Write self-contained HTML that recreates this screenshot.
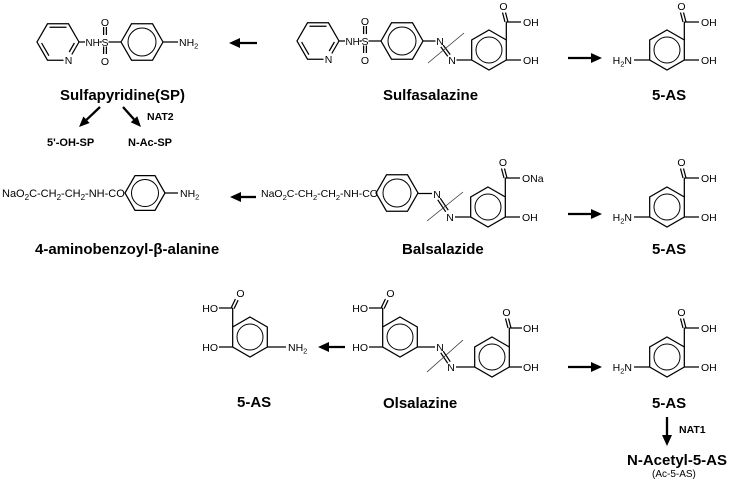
<!DOCTYPE html>
<html><head><meta charset="utf-8"><style>
html,body{margin:0;padding:0;background:#fff;}
svg{display:block;}
text{font-family:"Liberation Sans",Arial,sans-serif;fill:#000;}
.a{font-size:10.5px;}
.b{font-weight:bold;font-size:15px;}
.s{font-weight:bold;font-size:10.5px;}
.bd{stroke:#000;stroke-width:1.25;fill:none;}
.ci{stroke:#000;stroke-width:1;fill:none;}
.ar{stroke:#000;stroke-width:2.3;fill:none;}
.sl{stroke:#333;stroke-width:0.8;fill:none;}
.hd{fill:#000;stroke:none;}
</style></head><body>
<svg width="730" height="489" viewBox="0 0 730 489" xmlns="http://www.w3.org/2000/svg">
<rect width="730" height="489" fill="#fff"/>

<!-- ===== Sulfapyridine core ===== -->
<g>
 <g transform="translate(58,42)">
  <path class="bd" d="M21,0 L13.8,12.5 M5.5,18.19 L-10.5,18.19 L-21,0 L-10.5,-18.19 L10.5,-18.19 L21,0 M-8.5,-14.7 L8.5,-14.7 M-16.4,1 L-9.1,13.7 M16.4,1 L11.2,10"/>
  <text class="a" x="10.5" y="22" text-anchor="middle">N</text>
 </g>
 <path class="bd" d="M79,42 L85,42 M99.5,42 L101.8,42 M103.6,27 L103.6,35 M106.4,27 L106.4,35 M103.6,46.5 L103.6,54 M106.4,46.5 L106.4,54 M108.5,42 L121,42"/>
 <text class="a" x="85.5" y="45.8" style="font-size:9.8px">NH</text>
 <text class="a" x="105" y="45.8" text-anchor="middle">S</text>
 <text class="a" x="105" y="25.8" text-anchor="middle">O</text>
 <text class="a" x="105" y="64.8" text-anchor="middle">O</text>
 <g transform="translate(142,42)">
  <path class="bd" d="M-21,0 L-10.5,-18.19 L10.5,-18.19 L21,0 L10.5,18.19 L-10.5,18.19 Z"/>
  <circle class="ci" r="14"/>
 </g>
</g>
<path class="bd" d="M163,42 L178,42"/>
<text class="a" x="179" y="45.8">NH<tspan font-size="7.5" dy="2.5">2</tspan></text>

<!-- top-left arrow -->
<path class="ar" d="M257,43 L239,43"/>
<polygon class="hd" points="229,43 240,38 240,48"/>

<text class="b" x="60" y="100">Sulfapyridine(SP)</text>
<path class="ar" d="M100,107 L86.5,119.8"/>
<polygon class="hd" points="79,127 89.6,123 83.4,116.5"/>
<path class="ar" d="M123,107 L134,119.3"/>
<polygon class="hd" points="141,127 137.3,116.3 130.7,122.3"/>
<text class="s" x="147" y="120">NAT2</text>
<text class="s" x="47" y="146" style="font-size:11px">5'-OH-SP</text>
<text class="s" x="128" y="146" style="font-size:11px">N-Ac-SP</text>

<!-- ===== Sulfasalazine ===== -->
<g transform="translate(260,-1)">
 <g transform="translate(58,42)">
  <path class="bd" d="M21,0 L13.8,12.5 M5.5,18.19 L-10.5,18.19 L-21,0 L-10.5,-18.19 L10.5,-18.19 L21,0 M-8.5,-14.7 L8.5,-14.7 M-16.4,1 L-9.1,13.7 M16.4,1 L11.2,10"/>
  <text class="a" x="10.5" y="22" text-anchor="middle">N</text>
 </g>
 <path class="bd" d="M79,42 L85,42 M99.5,42 L101.8,42 M103.6,27 L103.6,35 M106.4,27 L106.4,35 M103.6,46.5 L103.6,54 M106.4,46.5 L106.4,54 M108.5,42 L121,42"/>
 <text class="a" x="85.5" y="45.8" style="font-size:9.8px">NH</text>
 <text class="a" x="105" y="45.8" text-anchor="middle">S</text>
 <text class="a" x="105" y="25.8" text-anchor="middle">O</text>
 <text class="a" x="105" y="64.8" text-anchor="middle">O</text>
 <g transform="translate(142,42)">
  <path class="bd" d="M-21,0 L-10.5,-18.19 L10.5,-18.19 L21,0 L10.5,18.19 L-10.5,18.19 Z"/>
  <circle class="ci" r="14"/>
 </g>
</g>
<path class="bd" d="M423,41 L435.5,41 M440.8,46.9 L447.8,56.4 M443.2,45.1 L450.2,54.6 M456.5,60 L471.7,60"/>
<text class="a" x="440" y="44.8" text-anchor="middle">N</text>
<text class="a" x="452" y="63.8" text-anchor="middle">N</text>
<path class="sl" d="M428,63 L464,33"/>
<g transform="translate(489,50)">
 <path class="bd" d="M0,-20 L17.32,-10 L17.32,10 L0,20 L-17.32,10 L-17.32,-10 Z"/>
 <circle class="ci" r="13"/>
 <path class="bd" d="M17.32,-10 L17.32,-28 M16,-28 L13.5,-37.5 M19,-28 L16.5,-37.5 M17.32,-28 L32,-28 M17.32,10 L32,10"/>
 <text class="a" x="14.5" y="-40.2" text-anchor="middle">O</text>
 <text class="a" x="34" y="-24.2">OH</text>
 <text class="a" x="34" y="13.8">OH</text>
</g>
<text class="b" x="383" y="100">Sulfasalazine</text>

<!-- top right arrow -->
<path class="ar" d="M568,58 L592,58"/>
<polygon class="hd" points="602,58 591,53 591,63"/>

<!-- 5-AS top -->
<g transform="translate(667,50)">
 <path class="bd" d="M0,-20 L17.32,-10 L17.32,10 L0,20 L-17.32,10 L-17.32,-10 Z"/>
 <circle class="ci" r="13"/>
 <path class="bd" d="M-17.32,10 L-33,10 M17.32,-10 L17.32,-28 M16,-28 L13.5,-37.5 M19,-28 L16.5,-37.5 M17.32,-28 L32,-28 M17.32,10 L32,10"/>
 <text class="a" x="-35" y="13.8" text-anchor="end">H<tspan font-size="7.5" dy="2.5">2</tspan><tspan dy="-2.5">N</tspan></text>
 <text class="a" x="14.5" y="-40.2" text-anchor="middle">O</text>
 <text class="a" x="34" y="-24.2">OH</text>
 <text class="a" x="34" y="13.8">OH</text>
</g>
<text class="b" x="652" y="100">5-AS</text>

<!-- ===== Row 2 ===== -->
<text x="2" y="197" style="font-size:11px">NaO<tspan font-size="8" dy="3">2</tspan><tspan dy="-3">C-CH</tspan><tspan font-size="8" dy="3">2</tspan><tspan dy="-3">-CH</tspan><tspan font-size="8" dy="3">2</tspan><tspan dy="-3">-NH-CO</tspan></text>
<g transform="translate(145,193)">
 <path class="bd" d="M-20,0 L-10,-17.32 L10,-17.32 L20,0 L10,17.32 L-10,17.32 Z"/>
 <circle class="ci" r="13.5"/>
</g>
<path class="bd" d="M165,193 L178,193"/>
<text class="a" x="180" y="197">NH<tspan font-size="7.5" dy="2.5">2</tspan></text>
<text class="b" x="35" y="254">4-aminobenzoyl-β-alanine</text>

<path class="ar" d="M256,197 L240,197"/>
<polygon class="hd" points="230,197 241,192 241,202"/>

<text x="261" y="197" style="font-size:10.5px">NaO<tspan font-size="7.5" dy="3">2</tspan><tspan dy="-3">C-CH</tspan><tspan font-size="7.5" dy="3">2</tspan><tspan dy="-3">-CH</tspan><tspan font-size="7.5" dy="3">2</tspan><tspan dy="-3">-NH-CO</tspan></text>
<g transform="translate(397,193)">
 <path class="bd" d="M-21,0 L-10.5,-18.19 L10.5,-18.19 L21,0 L10.5,18.19 L-10.5,18.19 Z"/>
 <circle class="ci" r="14"/>
</g>
<path class="bd" d="M418,193.5 L432,193.5 M437.75,199.8 L445.75,211.8 M440.25,198.2 L448.25,210.2 M455,217 L470.7,217"/>
<text class="a" x="437" y="197.8" text-anchor="middle">N</text>
<text class="a" x="450" y="220.8" text-anchor="middle">N</text>
<path class="sl" d="M427,221 L463,192"/>
<g transform="translate(488,207)">
 <path class="bd" d="M0,-20 L17.32,-10 L17.32,10 L0,20 L-17.32,10 L-17.32,-10 Z"/>
 <circle class="ci" r="13"/>
 <path class="bd" d="M17.32,-10 L17.32,-29 M16,-29 L13.5,-38.5 M19,-29 L16.5,-38.5 M17.32,-29 L32,-29 M17.32,10 L32,10"/>
 <text class="a" x="15" y="-41.2" text-anchor="middle">O</text>
 <text class="a" x="34" y="-25.2">ONa</text>
 <text class="a" x="34" y="13.8">OH</text>
</g>
<text class="b" x="402" y="254">Balsalazide</text>

<path class="ar" d="M568,214 L592,214"/>
<polygon class="hd" points="602,214 591,209 591,219"/>

<g transform="translate(667,207)">
 <path class="bd" d="M0,-20 L17.32,-10 L17.32,10 L0,20 L-17.32,10 L-17.32,-10 Z"/>
 <circle class="ci" r="13"/>
 <path class="bd" d="M-17.32,10 L-33,10 M17.32,-10 L17.32,-29 M16,-29 L13.5,-38.5 M19,-29 L16.5,-38.5 M17.32,-29 L32,-29 M17.32,10 L32,10"/>
 <text class="a" x="-35" y="13.8" text-anchor="end">H<tspan font-size="7.5" dy="2.5">2</tspan><tspan dy="-2.5">N</tspan></text>
 <text class="a" x="14.5" y="-41.2" text-anchor="middle">O</text>
 <text class="a" x="34" y="-25.2">OH</text>
 <text class="a" x="34" y="13.8">OH</text>
</g>
<text class="b" x="652" y="254">5-AS</text>

<!-- ===== Row 3 ===== -->
<g transform="translate(250,337)">
 <path class="bd" d="M0,-20 L17.32,-10 L17.32,10 L0,20 L-17.32,10 L-17.32,-10 Z"/>
 <circle class="ci" r="13"/>
 <path class="bd" d="M-17.32,-10 L-17.32,-29 M-18.6,-29.6 L-14.6,-38 M-15.9,-28.4 L-11.9,-36.8 M-17.32,-29 L-31,-29 M-17.32,10 L-31,10 M17.32,10 L36,10"/>
 <text class="a" x="-9.5" y="-40.2" text-anchor="middle">O</text>
 <text class="a" x="-32" y="-25.2" text-anchor="end">HO</text>
 <text class="a" x="-32" y="13.8" text-anchor="end">HO</text>
 <text class="a" x="38" y="13.8">NH<tspan font-size="7.5" dy="2.5">2</tspan></text>
</g>
<text class="b" x="237" y="407">5-AS</text>

<path class="ar" d="M345,347 L328,347"/>
<polygon class="hd" points="318,347 329,342 329,352"/>

<g transform="translate(400,337)">
 <path class="bd" d="M0,-20 L17.32,-10 L17.32,10 L0,20 L-17.32,10 L-17.32,-10 Z"/>
 <circle class="ci" r="13"/>
 <path class="bd" d="M-17.32,-10 L-17.32,-29 M-18.6,-29.6 L-14.6,-38 M-15.9,-28.4 L-11.9,-36.8 M-17.32,-29 L-31,-29 M-17.32,10 L-31,10"/>
 <text class="a" x="-9.5" y="-40.2" text-anchor="middle">O</text>
 <text class="a" x="-32" y="-25.2" text-anchor="end">HO</text>
 <text class="a" x="-32" y="13.8" text-anchor="end">HO</text>
</g>
<path class="bd" d="M417.3,347 L435,347 M440.75,352.8 L447.75,363.3 M443.25,351.2 L450.25,361.7 M456,367 L474.7,367"/>
<text class="a" x="440" y="350.8" text-anchor="middle">N</text>
<text class="a" x="451" y="370.8" text-anchor="middle">N</text>
<path class="sl" d="M427,372 L463,340"/>
<g transform="translate(492,357)">
 <path class="bd" d="M0,-20 L17.32,-10 L17.32,10 L0,20 L-17.32,10 L-17.32,-10 Z"/>
 <circle class="ci" r="13"/>
 <path class="bd" d="M17.32,-10 L17.32,-29 M16,-29 L13.5,-38.5 M19,-29 L16.5,-38.5 M17.32,-29 L30,-29 M17.32,10 L30,10"/>
 <text class="a" x="14.5" y="-41.2" text-anchor="middle">O</text>
 <text class="a" x="31" y="-25.2">OH</text>
 <text class="a" x="31" y="13.8">OH</text>
</g>
<text class="b" x="383" y="408">Olsalazine</text>

<path class="ar" d="M568,367 L592,367"/>
<polygon class="hd" points="602,367 591,362 591,372"/>

<g transform="translate(667,357)">
 <path class="bd" d="M0,-20 L17.32,-10 L17.32,10 L0,20 L-17.32,10 L-17.32,-10 Z"/>
 <circle class="ci" r="13"/>
 <path class="bd" d="M-17.32,10 L-33,10 M17.32,-10 L17.32,-29 M16,-29 L13.5,-38.5 M19,-29 L16.5,-38.5 M17.32,-29 L32,-29 M17.32,10 L32,10"/>
 <text class="a" x="-35" y="13.8" text-anchor="end">H<tspan font-size="7.5" dy="2.5">2</tspan><tspan dy="-2.5">N</tspan></text>
 <text class="a" x="14.5" y="-41.2" text-anchor="middle">O</text>
 <text class="a" x="34" y="-25.2">OH</text>
 <text class="a" x="34" y="13.8">OH</text>
</g>
<text class="b" x="652" y="408">5-AS</text>

<path class="ar" d="M667,417 L667,436"/>
<polygon class="hd" points="667,446 662,435 672,435"/>
<text class="s" x="679" y="433">NAT1</text>
<text class="b" x="627" y="465">N-Acetyl-5-AS</text>
<text x="652" y="477" style="font-size:10px">(Ac-5-AS)</text>
</svg>
</body></html>
